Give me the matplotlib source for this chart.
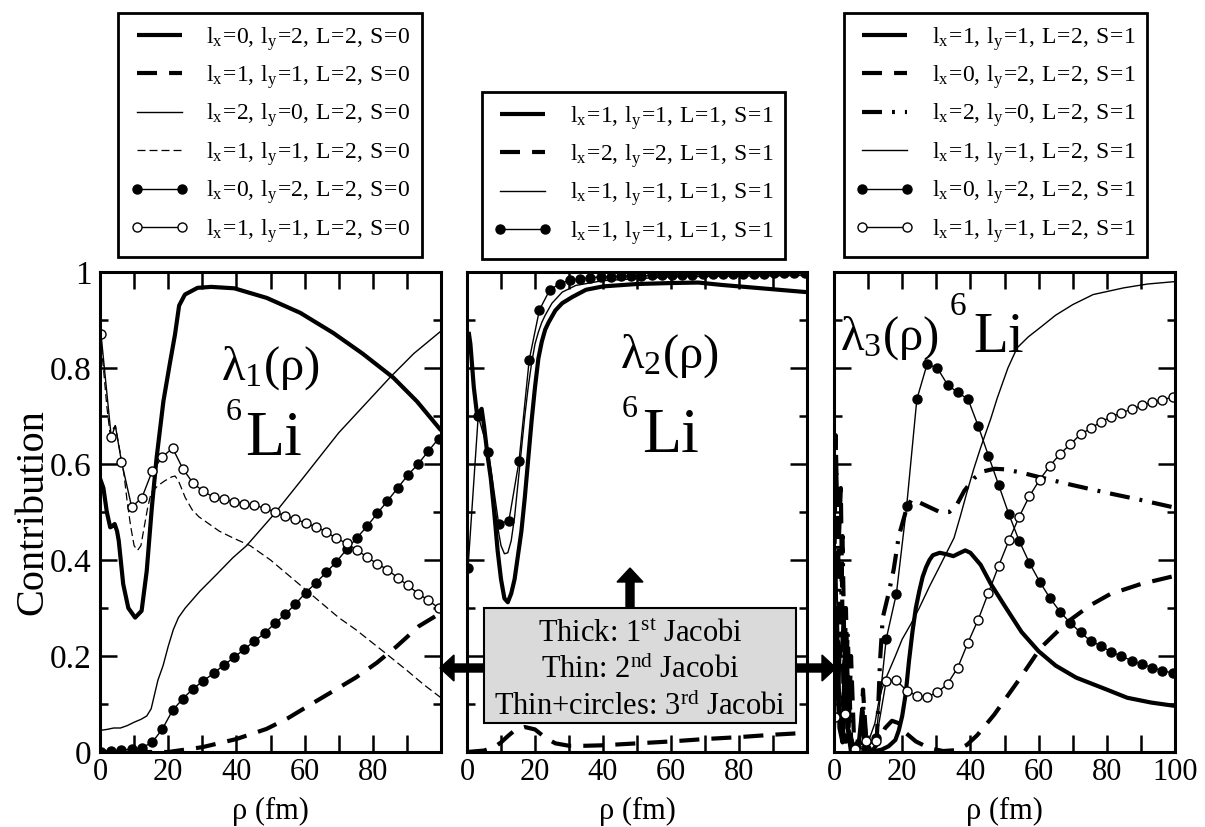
import numpy as np
import matplotlib
matplotlib.use('Agg')
import matplotlib.pyplot as plt
from matplotlib.ticker import MultipleLocator, FuncFormatter
from matplotlib.patches import Rectangle, FancyArrow

plt.rcParams['font.family'] = ['Liberation Serif', 'DejaVu Serif']
plt.rcParams['mathtext.fontset'] = 'custom'
plt.rcParams['mathtext.rm'] = 'Liberation Serif'
plt.rcParams['mathtext.it'] = 'Liberation Serif:italic'
plt.rcParams['mathtext.bf'] = 'Liberation Serif:bold'

# ---------------- Panel 1 (lambda_1) ----------------
p1_thick_r = [0, 1, 2, 3, 3.5, 4.3, 5, 5.5, 6.8, 8.3, 10.3, 12.2, 13.7, 15.2, 16.6, 18.6, 20.5, 22,
              23.2, 24.9, 28.6, 32.6, 39.4, 48.9, 58.7, 68.4, 77, 86, 93, 100]
p1_thick_v = [0.57, 0.55, 0.50, 0.468, 0.47, 0.475, 0.46, 0.44, 0.35, 0.30, 0.28, 0.294, 0.377, 0.509,
              0.613, 0.731, 0.81, 0.87, 0.93, 0.953, 0.967, 0.969, 0.966, 0.946, 0.915, 0.873, 0.83,
              0.78, 0.73, 0.67]
p1_dash_r = [0, 20, 30, 40, 48.8, 55, 62, 68.4, 75, 81.2, 87, 93.5, 100]
p1_dash_v = [0.0, 0.0, 0.01, 0.027, 0.048, 0.07, 0.1, 0.127, 0.155, 0.186, 0.22, 0.262, 0.29]
p1_thin_r = [0, 2, 4, 6, 8, 10, 12, 13.7, 15, 16, 17, 18.5, 20, 21.5, 23, 25, 29.3, 34.2, 39, 43,
             51, 60, 70, 85, 92, 100]
p1_thin_v = [0.045, 0.047, 0.05, 0.05, 0.055, 0.062, 0.068, 0.075, 0.09, 0.12, 0.15, 0.18, 0.22,
             0.255, 0.28, 0.30, 0.335, 0.37, 0.405, 0.43, 0.495, 0.575, 0.665, 0.78, 0.83, 0.877]
p1_tdash_r = [0, 1, 2, 3, 4, 4.5, 5.5, 7, 8, 9, 10, 11, 12, 13, 14, 15, 17, 19, 21, 22, 23, 25, 27,
              29, 32, 35, 39, 44, 50, 55, 60, 65, 70, 75, 83, 90, 95, 100]
p1_tdash_v = [0.87, 0.80, 0.72, 0.66, 0.675, 0.68, 0.64, 0.58, 0.52, 0.47, 0.43, 0.42, 0.43, 0.47,
              0.51, 0.54, 0.555, 0.565, 0.573, 0.575, 0.565, 0.53, 0.505, 0.49, 0.475, 0.46, 0.446,
              0.43, 0.40, 0.37, 0.34, 0.31, 0.28, 0.255, 0.21, 0.17, 0.14, 0.113]
p1_full_r = [0.3, 3.3, 6.3, 9.3, 12.3, 15.3, 18.3, 21.3, 24.3, 27.3, 30.3, 33.3, 36.3, 39.3, 42.3,
             45.3, 48.3, 51.3, 54.3, 57.3, 60.3, 63.3, 66.3, 69.3, 72.3, 75.3, 78.3, 81.3, 84.3,
             87.3, 90.3, 93.3, 96.3, 99.3]
p1_full_v = [0.001, 0.002, 0.004, 0.006, 0.009, 0.02, 0.048, 0.087, 0.111, 0.132, 0.148, 0.164,
             0.181, 0.197, 0.214, 0.231, 0.248, 0.268, 0.287, 0.308, 0.332, 0.352, 0.374, 0.396,
             0.422, 0.446, 0.47, 0.497, 0.523, 0.55, 0.577, 0.6, 0.627, 0.653]
p1_open_r = [0.3, 3.3, 4.5, 6.3, 9.3, 12.3, 15.3, 18.3, 21.3, 24.3, 27.3, 30.3, 33.3, 36.3, 39.3,
             42.3, 45.3, 48.3, 51.3, 54.3, 57.3, 60.3, 63.3, 66.3, 69.3, 72.3, 75.3, 78.3, 81.3,
             84.3, 87.3, 90.3, 93.3, 96.3, 99.3]
p1_open_v = [0.87, 0.656, 0.68, 0.605, 0.51, 0.53, 0.585, 0.615, 0.633, 0.59, 0.56, 0.543, 0.531,
             0.527, 0.521, 0.517, 0.514, 0.508, 0.5, 0.492, 0.485, 0.477, 0.469, 0.459, 0.445,
             0.435, 0.421, 0.406, 0.392, 0.38, 0.363, 0.347, 0.33, 0.316, 0.3]
p1_labels = [r'$\mathrm{l_x\!=\!0,\:l_y\!=\!2,\:L\!=\!2,\:S\!=\!0}$',
             r'$\mathrm{l_x\!=\!1,\:l_y\!=\!1,\:L\!=\!2,\:S\!=\!0}$',
             r'$\mathrm{l_x\!=\!2,\:l_y\!=\!0,\:L\!=\!2,\:S\!=\!0}$',
             r'$\mathrm{l_x\!=\!1,\:l_y\!=\!1,\:L\!=\!2,\:S\!=\!0}$',
             r'$\mathrm{l_x\!=\!0,\:l_y\!=\!2,\:L\!=\!2,\:S\!=\!0}$',
             r'$\mathrm{l_x\!=\!1,\:l_y\!=\!1,\:L\!=\!2,\:S\!=\!0}$']

# ---------------- Panel 2 (lambda_2) ----------------
p2_thick_r = [0.5, 1, 2, 3, 4.3, 5, 6, 7, 8, 9, 10, 11, 12, 13, 14, 15, 16, 17, 18, 19, 20, 21, 22,
              23, 24, 26, 28, 31, 35, 40, 50, 60, 68, 75, 85, 100]
p2_thick_v = [0.875, 0.85, 0.76, 0.70, 0.715, 0.68, 0.62, 0.57, 0.50, 0.42, 0.36, 0.32, 0.312,
              0.33, 0.36, 0.41, 0.46, 0.53, 0.61, 0.69, 0.76, 0.82, 0.855, 0.88, 0.895, 0.92,
              0.935, 0.948, 0.963, 0.97, 0.975, 0.977, 0.978, 0.973, 0.967, 0.958]
p2_dash_r = [0, 5, 8, 10, 12, 14, 17, 20, 23, 26, 30, 35, 40, 50, 60, 70, 80, 90, 100]
p2_dash_v = [0.0, 0.003, 0.01, 0.02, 0.033, 0.045, 0.052, 0.047, 0.03, 0.018, 0.013, 0.013, 0.014,
             0.018, 0.022, 0.027, 0.031, 0.036, 0.04]
p2_thin_r = [0.5, 1, 2, 3, 4.3, 5, 6, 7, 8, 9, 10, 11, 12, 13, 14, 15, 16, 17, 18, 19, 20, 21, 22,
             23, 25, 28, 32, 40, 60, 100]
p2_thin_v = [0.875, 0.85, 0.76, 0.70, 0.715, 0.68, 0.62, 0.57, 0.52, 0.47, 0.43, 0.413, 0.415,
             0.44, 0.49, 0.56, 0.63, 0.70, 0.76, 0.81, 0.85, 0.875, 0.895, 0.91, 0.935, 0.958,
             0.972, 0.982, 0.99, 0.993]
p2_full_r = [0.3, 3.3, 6.3, 9.3, 12.3, 15.3, 18.3, 21.3, 24.3, 27.3, 30.3, 33.3, 36.3, 39.3, 42.3,
             45.3, 48.3, 51.3, 54.3, 57.3, 60.3, 63.3, 66.3, 69.3, 72.3, 75.3, 78.3, 81.3, 84.3,
             87.3, 90.3, 93.3, 96.3, 99.3]
p2_full_v = [0.384, 0.70, 0.626, 0.476, 0.481, 0.606, 0.817, 0.921, 0.962, 0.976, 0.983, 0.986,
             0.988, 0.99, 0.99, 0.991, 0.992, 0.992, 0.993, 0.993, 0.994, 0.994, 0.994, 0.995,
             0.995, 0.995, 0.996, 0.996, 0.996, 0.996, 0.997, 0.997, 0.997, 0.997]
p2_labels = [r'$\mathrm{l_x\!=\!1,\:l_y\!=\!1,\:L\!=\!1,\:S\!=\!1}$',
             r'$\mathrm{l_x\!=\!2,\:l_y\!=\!2,\:L\!=\!1,\:S\!=\!1}$',
             r'$\mathrm{l_x\!=\!1,\:l_y\!=\!1,\:L\!=\!1,\:S\!=\!1}$',
             r'$\mathrm{l_x\!=\!1,\:l_y\!=\!1,\:L\!=\!1,\:S\!=\!1}$']

# ---------------- Panel 3 (lambda_3) ----------------
p3_thick_r = [0, 0.8, 1.6, 2.5, 3.3, 4, 5, 7, 8.3, 9, 12, 14, 16, 18, 19, 20, 21, 22, 23, 24, 25,
              26, 27, 28, 29, 31, 33, 35, 37, 38.5, 40, 43, 46, 50, 55, 60, 65, 71, 80, 86, 93, 100]
p3_thick_v = [0.05, 0.3, 0.05, 0.02, 0.24, 0.05, 0.0, 0.0, 0.09, 0.0, 0.002, 0.005, 0.012, 0.025,
              0.045, 0.075, 0.12, 0.19, 0.25, 0.30, 0.335, 0.365, 0.385, 0.40, 0.41, 0.415, 0.412,
              0.408, 0.415, 0.42, 0.415, 0.39, 0.35, 0.305, 0.25, 0.21, 0.18, 0.155, 0.13, 0.113,
              0.103, 0.096]
p3_dash_r = [0, 0.5, 1.2, 2, 2.8, 3.5, 4.3, 5, 6, 8, 8.5, 9.5, 11, 13, 15, 17, 19, 21, 24, 28, 32,
             36, 39, 42, 47, 54, 60.6, 68.3, 75, 81, 90, 100]
p3_dash_v = [0.3, 0.66, 0.4, 0.55, 0.1, 0.3, 0.05, 0.2, 0.0, 0.05, 0.13, 0.02, 0.0, 0.02, 0.05,
             0.065, 0.06, 0.04, 0.022, 0.008, 0.002, 0.004, 0.015, 0.035, 0.078, 0.148, 0.217,
             0.27, 0.305, 0.329, 0.35, 0.367]
p3_dd_r = [0, 0.4, 1, 1.8, 2.5, 3.3, 4, 5, 6, 8, 8.5, 9.5, 11, 12.5, 13, 13.5, 14.3, 16, 17.5, 19,
           21, 22.6, 25, 28, 31, 33.8, 36, 38.2, 41, 44, 47, 50, 55, 60, 70, 80, 90, 100]
p3_dd_v = [0.54, 0.65, 0.5, 0.2, 0.45, 0.1, 0.25, 0.03, 0.0, 0.02, 0.1, 0.02, 0.0, 0.02, 0.1, 0.19,
           0.28, 0.33, 0.38, 0.45, 0.5, 0.525, 0.52, 0.51, 0.5, 0.5, 0.515, 0.544, 0.57, 0.585,
           0.59, 0.589, 0.582, 0.573, 0.556, 0.54, 0.525, 0.509]
p3_thin_r = [0, 0.8, 1.5, 2.5, 3.5, 5, 8, 10, 12, 13, 14, 15, 18, 20, 22.5, 25, 28, 30.3, 33, 35.2,
             37, 39.1, 41, 43, 46, 47.9, 51, 53.7, 57, 60.6, 65, 70, 76, 85, 92, 100]
p3_thin_v = [0.1, 0.4, 0.1, 0.3, 0.05, 0.02, 0.01, 0.02, 0.06, 0.1, 0.13, 0.15, 0.2, 0.235, 0.266,
             0.3, 0.345, 0.377, 0.415, 0.446, 0.49, 0.544, 0.59, 0.634, 0.695, 0.738, 0.80, 0.842,
             0.865, 0.885, 0.91, 0.932, 0.953, 0.967, 0.975, 0.98]
p3_full_r = [0.3, 3.3, 6.3, 9.3, 12.3, 15.3, 18.3, 21.3, 24.3, 27.3, 30.3, 33.3, 36.3, 39.3, 42.3,
             45.3, 48.3, 51.3, 54.3, 57.3, 60.3, 63.3, 66.3, 69.3, 72.3, 75.3, 78.3, 81.3, 84.3,
             87.3, 90.3, 93.3, 96.3, 99.3]
p3_full_v = [0.228, 0.03, 0.01, 0.005, 0.03, 0.235, 0.33, 0.512, 0.735, 0.808, 0.80, 0.765, 0.749,
             0.735, 0.679, 0.617, 0.556, 0.495, 0.44, 0.394, 0.355, 0.321, 0.292, 0.269, 0.249,
             0.231, 0.221, 0.208, 0.2, 0.19, 0.183, 0.176, 0.169, 0.165]
p3_open_r = [0.3, 3.3, 6.3, 9.3, 12.3, 15.3, 18.3, 21.3, 24.3, 27.3, 30.3, 33.3, 36.3, 39.3, 42.3,
             45.3, 48.3, 51.3, 54.3, 57.3, 60.3, 63.3, 66.3, 69.3, 72.3, 75.3, 78.3, 81.3, 84.3,
             87.3, 90.3, 93.3, 96.3, 99.3]
p3_open_v = [0.073, 0.08, 0.006, 0.023, 0.023, 0.148, 0.149, 0.128, 0.117, 0.115, 0.124, 0.142,
             0.176, 0.228, 0.276, 0.332, 0.388, 0.441, 0.49, 0.533, 0.567, 0.596, 0.621, 0.641,
             0.662, 0.674, 0.688, 0.698, 0.707, 0.714, 0.722, 0.729, 0.733, 0.74]
p3_labels = [r'$\mathrm{l_x\!=\!1,\:l_y\!=\!1,\:L\!=\!2,\:S\!=\!1}$',
             r'$\mathrm{l_x\!=\!0,\:l_y\!=\!2,\:L\!=\!2,\:S\!=\!1}$',
             r'$\mathrm{l_x\!=\!2,\:l_y\!=\!0,\:L\!=\!2,\:S\!=\!1}$',
             r'$\mathrm{l_x\!=\!1,\:l_y\!=\!1,\:L\!=\!2,\:S\!=\!1}$',
             r'$\mathrm{l_x\!=\!0,\:l_y\!=\!2,\:L\!=\!2,\:S\!=\!1}$',
             r'$\mathrm{l_x\!=\!1,\:l_y\!=\!1,\:L\!=\!2,\:S\!=\!1}$']

box_lines = [r'Thick: $\mathrm{1^{st}}$ Jacobi',
             r'Thin: $\mathrm{2^{nd}}$ Jacobi',
             r'Thin+circles: $\mathrm{3^{rd}}$ Jacobi']

# ---------------- styles ----------------
W, H = 1205, 827
TH = dict(color='k', lw=3.0, solid_capstyle='butt')
TN = dict(color='k', lw=1.0)
TDASH = dict(color='k', lw=3.0, ls=(0, (4.8, 2.9)))
NDASH = dict(color='k', lw=0.9, ls=(0, (6.4, 3.2)))
DDOT = dict(color='k', lw=3.0, ls=(0, (4.8, 2.4, 0.7, 2.4)))
FULL = dict(color='k', lw=1.0, marker='o', ms=6.5, mfc='k', mec='k')
OPEN = dict(color='k', lw=1.0, marker='o', ms=6.5, mfc='white', mec='k', mew=1.0)


def on_grid(r):
    f = ((np.asarray(r, float) - 0.3) / 3.0) % 1.0
    return list(np.isclose(f, 0) | np.isclose(f, 1))


fig = plt.figure(figsize=(W / 100, H / 100), dpi=100)


def make_ax(x0, x1):
    return fig.add_axes([x0 / W, 1 - 752 / H, (x1 - x0) / W, 480 / H])


def style(ax, xlabels, ylab):
    ax.set_xlim(0, 100)
    ax.set_ylim(0, 1)
    ax.xaxis.set_major_locator(MultipleLocator(20))
    ax.xaxis.set_minor_locator(MultipleLocator(10))
    ax.yaxis.set_major_locator(MultipleLocator(0.2))
    ax.yaxis.set_minor_locator(MultipleLocator(0.1))
    ax.tick_params(which='both', direction='in', top=True, right=True, width=1.8)
    ax.tick_params(axis='x', which='both', length=12, pad=4, labelsize=22)
    ax.tick_params(axis='y', which='major', length=12, pad=6, labelsize=24)
    ax.tick_params(axis='y', which='minor', length=6)
    ax.xaxis.set_major_formatter(FuncFormatter(
        lambda v, p: '%d' % round(v) if round(v) in xlabels else ''))
    if ylab:
        ax.yaxis.set_major_formatter(FuncFormatter(
            lambda v, p: {0: '0', 1: '1'}.get(round(v * 10) / 10, '%.1f' % v)))
    else:
        ax.set_yticklabels([])
    for s in ax.spines.values():
        s.set_linewidth(2.2)
    ax.set_xlabel('ρ (fm)', fontsize=22, va='bottom')
    ax.xaxis.set_label_coords(0.5, -(826 - 752) / 480)


def legend(ax, handles, labels, cx, top):
    lg = ax.legend(handles, labels, loc='upper center',
                   bbox_to_anchor=(cx / W, 1 - top / H), bbox_transform=fig.transFigure,
                   fontsize=17, frameon=True, fancybox=False, edgecolor='k',
                   handlelength=2.5, handletextpad=0.74, borderpad=0.5,
                   labelspacing=0.45, numpoints=2, borderaxespad=0)
    lg.get_frame().set_linewidth(2)
    lg.get_frame().set_alpha(1)
    return lg


# Panel 1
ax1 = make_ax(100, 441)
h = []
h += ax1.plot(p1_thick_r, p1_thick_v, **TH)
h += ax1.plot(p1_dash_r, p1_dash_v, **TDASH)
h += ax1.plot(p1_thin_r, p1_thin_v, **TN)
h += ax1.plot(p1_tdash_r, p1_tdash_v, **NDASH)
h += ax1.plot(p1_full_r, p1_full_v, **FULL)
h += ax1.plot(p1_open_r, p1_open_v, markevery=on_grid(p1_open_r), **OPEN)
style(ax1, [0, 20, 40, 60, 80], True)
ax1.set_ylabel('Contribution', fontsize=29, labelpad=-1)
legend(ax1, h, p1_labels, 270, 13)

# Panel 2
ax2 = make_ax(467, 807)
h = []
h += ax2.plot(p2_thick_r, p2_thick_v, **TH)
h += ax2.plot(p2_dash_r, p2_dash_v, **TDASH)
h += ax2.plot(p2_thin_r, p2_thin_v, **TN)
h += ax2.plot(p2_full_r, p2_full_v, **FULL)
style(ax2, [0, 20, 40, 60, 80], False)
legend(ax2, h, p2_labels, 633.5, 92)

# Panel 3
ax3 = make_ax(834, 1175)
h = []
h += ax3.plot(p3_thick_r, p3_thick_v, **TH)
h += ax3.plot(p3_dash_r, p3_dash_v, **TDASH)
h += ax3.plot(p3_dd_r, p3_dd_v, **DDOT)
h += ax3.plot(p3_thin_r, p3_thin_v, **TN)
h += ax3.plot(p3_full_r, p3_full_v, **FULL)
h += ax3.plot(p3_open_r, p3_open_v, **OPEN)
style(ax3, [0, 20, 40, 60, 80, 100], False)
legend(ax3, h, p3_labels, 995.5, 13)

# ---------------- overlay annotations (pixel coordinates) ----------------
ov = fig.add_axes([0, 0, 1, 1], zorder=10)
ov.set_xlim(0, W)
ov.set_ylim(H, 0)
ov.axis('off')
ov.patch.set_alpha(0)


def lam(x, y, n, fs=35):
    ov.text(x, y, r'$\mathrm{λ_%d(ρ)}$' % n, fontsize=fs, ha='left', va='baseline')


def li(x6, y6, xl, yl, fs6, fsl):
    ov.text(x6, y6, '6', fontsize=fs6, ha='left', va='baseline')
    ov.text(xl, yl, 'Li', fontsize=fsl, ha='left', va='baseline')


lam(221, 380, 1)
li(226, 420, 245, 455, 23, 46)
lam(620, 368, 2)
li(622, 417, 642, 452, 23, 46)
lam(840, 350, 3)
li(950, 315, 973, 352, 24, 41)

ov.add_patch(Rectangle((484, 608), 312, 115, fc='#dadada', ec='k', lw=1.5, zorder=3))
for i, t in enumerate(box_lines):
    ov.text(640, 642 + 36.5 * i, t, fontsize=22, ha='center', va='baseline', zorder=4)
arrow_kw = dict(width=8, head_width=26, head_length=14, length_includes_head=True,
                color='k', zorder=2)
ov.add_patch(FancyArrow(630, 608, 0, -40, **arrow_kw))
ov.add_patch(FancyArrow(484, 668, -44, 0, **arrow_kw))
ov.add_patch(FancyArrow(796, 668, 40, 0, **arrow_kw))

fig.savefig('out.png', dpi=100)
